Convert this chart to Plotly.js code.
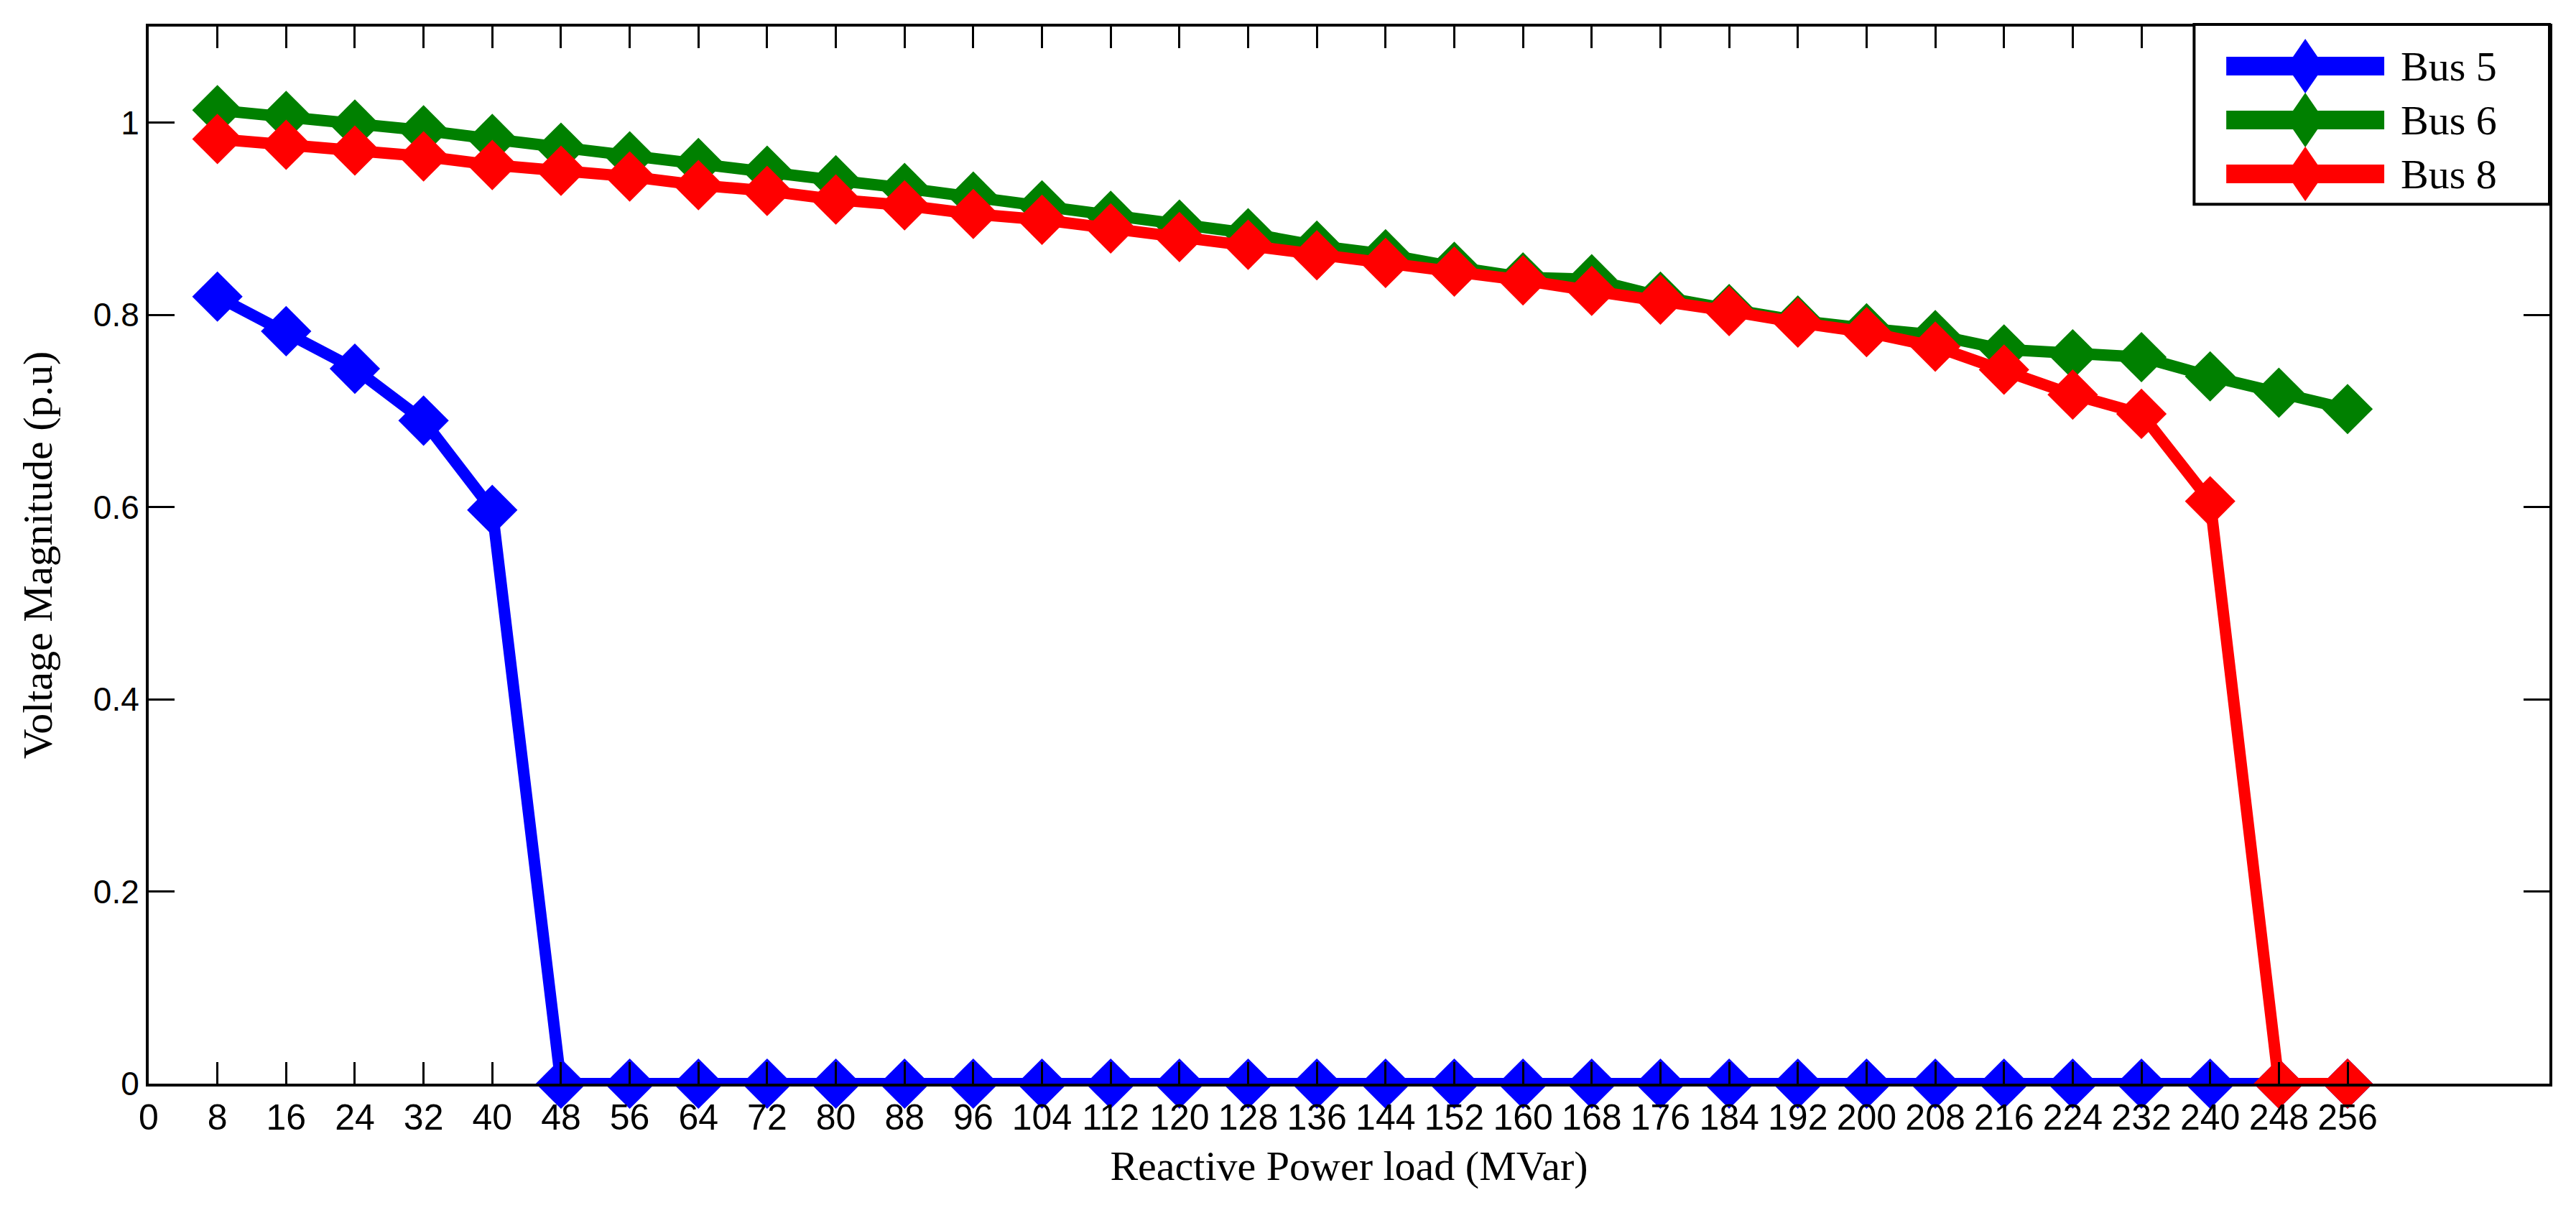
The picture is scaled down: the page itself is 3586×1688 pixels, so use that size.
<!DOCTYPE html>
<html>
<head>
<meta charset="utf-8">
<script src="https://cdn.plot.ly/plotly-3.0.1.min.js"></script>
<style>
  html, body { margin: 0; padding: 0; background: #fff; }
  #chart { width: 3586px; height: 1688px; }
</style>
</head>
<body>
<div id="chart"></div>
<script>
// Reactive power load (MVar)
const load = [8,16,24,32,40,48,56,64,72,80,88,96,104,112,120,128,136,144,152,160,168,176,184,192,200,208,216,224,232,240,248,256];

// Voltage magnitude (p.u)
const bus5 = [0.819,0.783,0.744,0.690,0.597,0,0,0,0,0,0,0,0,0,0,0,0,0,0,0,0,0,0,0,0,0,0,0,0,0,0,0];
const bus6 = [1.013,1.007,0.998,0.992,0.983,0.974,0.965,0.958,0.950,0.940,0.932,0.923,0.914,0.903,0.894,0.885,0.872,0.863,0.850,0.839,0.837,0.819,0.806,0.794,0.786,0.779,0.764,0.759,0.756,0.736,0.719,0.702];
const bus8 = [0.983,0.977,0.971,0.965,0.956,0.950,0.944,0.935,0.929,0.920,0.914,0.905,0.899,0.890,0.881,0.873,0.862,0.854,0.845,0.836,0.825,0.816,0.804,0.792,0.782,0.767,0.743,0.717,0.697,0.606,0,0];

const seriesNames = ['Bus 5','Bus 6','Bus 8'];
const seriesColors = ['#0000ff','#008000','#ff0000'];
const seriesData = [bus5, bus6, bus8];

const xTicks = [0,8,16,24,32,40,48,56,64,72,80,88,96,104,112,120,128,136,144,152,160,168,176,184,192,200,208,216,224,232,240,248,256];
const yTicks = [0,0.2,0.4,0.6,0.8,1];
const yTickText = ['0','0.2','0.4','0.6','0.8','1'];

const traces = seriesData.map((vals, i) => ({
  type: 'scatter',
  mode: 'lines+markers',
  name: seriesNames[i],
  x: load,
  y: vals,
  showlegend: false,
  cliponaxis: false,
  line: { color: seriesColors[i], width: 16 },
  marker: { symbol: 'diamond', size: 54, color: seriesColors[i], line: { width: 0 } }
}));

const serif = 'Liberation Serif, Times New Roman, serif';

// Legend box drawn as layout decoration (paper coordinates)
const legendBox = { x0: 0.852, x1: 1.0, y0: 0.832, y1: 1.002 };
const legendRowsY = [0.9626, 0.9116, 0.8606];
const legendLine = { x0: 0.8654, x1: 0.9312, xc: 0.8983 };
const legendTextX = 0.9375;

const shapes = [{
  type: 'rect', xref: 'paper', yref: 'paper',
  x0: legendBox.x0, x1: legendBox.x1, y0: legendBox.y0, y1: legendBox.y1,
  fillcolor: '#ffffff', line: { color: '#000', width: 4 }, layer: 'above'
}];
const annotations = [];
seriesNames.forEach((nm, i) => {
  shapes.push({
    type: 'line', xref: 'paper', yref: 'paper',
    x0: legendLine.x0, x1: legendLine.x1, y0: legendRowsY[i], y1: legendRowsY[i],
    line: { color: seriesColors[i], width: 26 }, layer: 'above'
  });
  shapes.push({
    type: 'path', xref: 'paper', yref: 'paper',
    xsizemode: 'pixel', ysizemode: 'pixel',
    xanchor: legendLine.xc, yanchor: legendRowsY[i],
    path: 'M-26,0L0,38L26,0L0,-38Z',
    fillcolor: seriesColors[i], line: { width: 0 }, layer: 'above'
  });
  annotations.push({
    xref: 'paper', yref: 'paper', x: legendTextX, y: legendRowsY[i],
    xanchor: 'left', yanchor: 'middle', showarrow: false,
    text: nm, font: { family: serif, size: 58, color: '#000' }
  });
});

const layout = {
  width: 3586,
  height: 1688,
  paper_bgcolor: '#ffffff',
  plot_bgcolor: '#ffffff',
  margin: { l: 207, r: 37, t: 37, b: 180 },
  showlegend: false,
  shapes: shapes,
  annotations: annotations,
  xaxis: {
    range: [0, 279.5],
    tickmode: 'array',
    tickvals: xTicks,
    ticktext: xTicks.map(String),
    ticks: 'inside', ticklen: 30, tickwidth: 3, tickcolor: '#000',
    showline: true, linecolor: '#000', linewidth: 4, mirror: 'ticks',
    showgrid: false, zeroline: false,
    tickfont: { family: 'Liberation Sans Narrow, Liberation Sans, Arial, sans-serif', size: 50, color: '#000' },
    title: { text: 'Reactive Power load (MVar)', font: { family: serif, size: 58, color: '#000' }, standoff: 20 }
  },
  yaxis: {
    range: [0, 1.1],
    tickmode: 'array',
    tickvals: yTicks,
    ticktext: yTickText,
    ticks: 'inside', ticklen: 36, tickwidth: 3, tickcolor: '#000',
    showline: true, linecolor: '#000', linewidth: 4, mirror: 'ticks',
    showgrid: false, zeroline: false,
    tickfont: { family: 'Liberation Sans, Arial, sans-serif', size: 46, color: '#000' },
    title: { text: 'Voltage Magnitude (p.u)', font: { family: serif, size: 58, color: '#000' }, standoff: 40 }
  }
};

Plotly.newPlot('chart', traces, layout, { displayModeBar: false, staticPlot: true });
</script>
</body>
</html>
